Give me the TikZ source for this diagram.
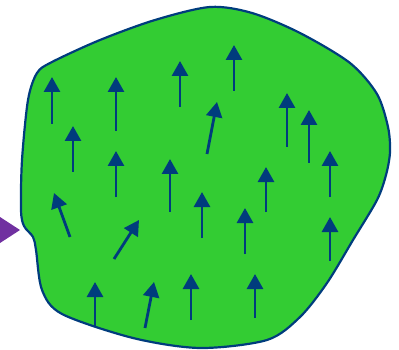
\documentclass[tikz,border=0pt]{standalone}
\usetikzlibrary{arrows.meta}

\definecolor{blobgreen}{RGB}{51,204,51}
\definecolor{fieldblue}{RGB}{0,60,125}
\definecolor{probepurple}{RGB}{112,48,160}

\tikzset{
  blob/.style={fill=blobgreen, draw=fieldblue, line width=2.2pt},
  field arrow/.style={fieldblue, line width=2.8pt,
    -{Triangle[length=15pt,width=16pt]}},
  probe/.style={fill=probepurple, draw=none},
}

\begin{document}
\begin{tikzpicture}[x=1pt,y=-1pt]
  \useasboundingbox (0,0) rectangle (399,350);

  % the magnetised region
  \draw[blob] plot[smooth cycle, tension=0.5] coordinates {
    (210,7) (252,13) (300,33) (350,63) (377,94) (388,127) (390,152)
    (386,175) (377,200) (353,240) (327,283) (300,317) (267,340) (200,348)
    (133,338) (62,314) (42,290) (36,250) (33,237) (24,226) (21,210)
    (22,160) (28,100) (37,73) (52,62) (100,40) (155,20)
  };

  % incoming probe
  \fill[probe] (0,217) -- (20,230) -- (0,243) -- cycle;

  % field lines: tail/tip
  \foreach \tail/\tip in {
      {52,124}/{52,77}, {116,131}/{116,77}, {180,107}/{180,61},
      {234,91}/{234,45}, {207,154}/{217,102}, {287,147}/{287,93},
      {309,163}/{309,110}, {73,172}/{73,126}, {116,197}/{116,151},
      {170,212}/{170,159}, {266,212}/{266,167}, {330,197}/{330,151},
      {70,237}/{54,193}, {114,259}/{139,220}, {202,238}/{202,192},
      {245,254}/{245,208}, {330,261}/{330,217}, {95,327}/{95,282},
      {145,328}/{154,282}, {191,320}/{191,274}, {255,318}/{255,274}}
    \draw[field arrow] (\tail) -- (\tip);
\end{tikzpicture}
\end{document}
